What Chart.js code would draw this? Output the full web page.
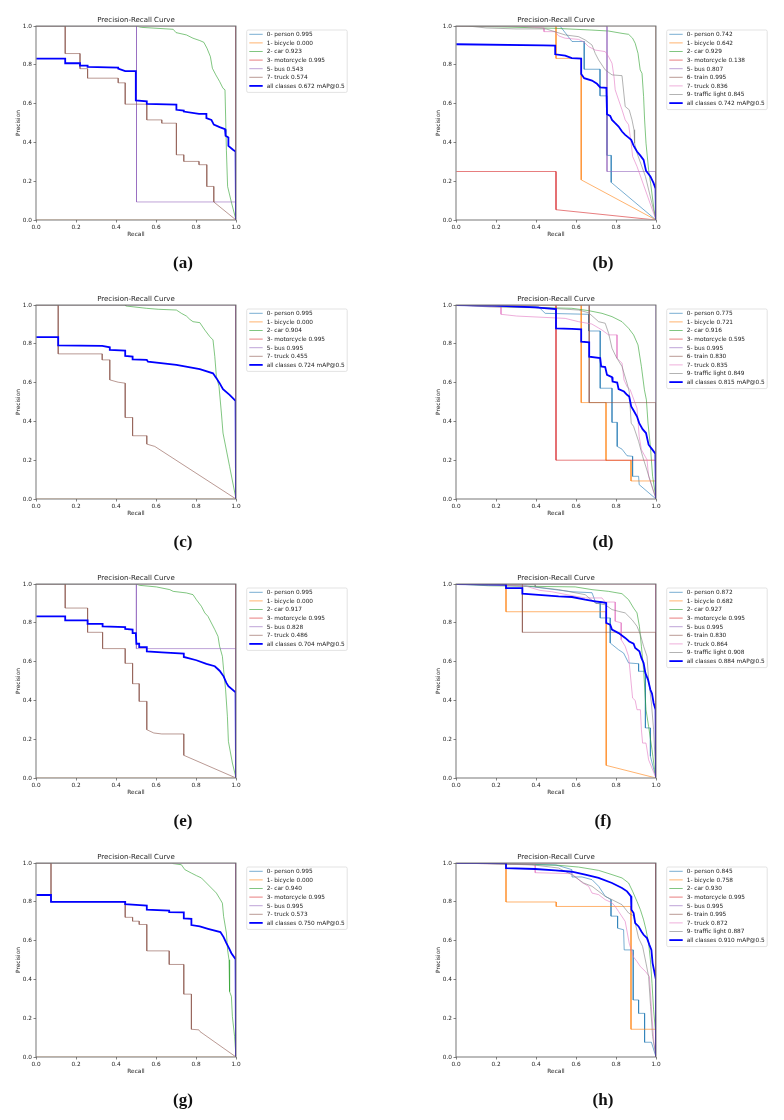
<!DOCTYPE html>
<html>
<head>
<meta charset="utf-8">
<script src="https://cdn.jsdelivr.net/npm/chart.js@4.4.0/dist/chart.umd.min.js"></script>
<style>
    body { margin: 0; background: #fff; }
    #page { position: relative; width: 784px; height: 1120px; overflow: hidden; }
    canvas { position: absolute; }
    .cap { position: absolute; width: 100px; text-align: center; line-height: 20px;
           font: bold 17px "Liberation Serif", serif; color: #111; }
</style>
</head>
<body>
<div id="page"></div>
<script>
// ---- shared curves (classes sitting on the frame) ----
const topCurve = [[0, 1], [1, 1], [1, 0]];
const zeroCurve = [[0, 0], [1, 0]];

// ---- (a) ----
const aLabels = ['0- person 0.995', '1- bicycle 0.000', '2- car 0.923', '3- motorcycle 0.995', '5- bus 0.543', '7- truck 0.574'];
const aAllLabel = 'all classes 0.672 mAP@0.5';
const aCar = [[0,1],[0.5,1],[0.527,0.993],[0.686,0.983],[0.70,0.966],[0.752,0.954],[0.785,0.937],[0.819,0.925],[0.839,0.916],[0.855,0.885],[0.872,0.842],[0.882,0.782],[0.899,0.748],[0.918,0.714],[0.935,0.679],[0.945,0.671],[0.952,0.36],[0.958,0.173],[0.978,0.087],[1,0]];
const aBus = [[0,1],[0.5025,1],[0.5025,0.093],[1,0.093],[1,0]];
const aTruck = [[0,1],[0.146,1],[0.146,0.858],[0.22,0.858],[0.22,0.78],[0.258,0.78],[0.258,0.731],[0.411,0.731],[0.411,0.707],[0.446,0.707],[0.446,0.597],[0.554,0.597],[0.554,0.516],[0.629,0.516],[0.629,0.499],[0.702,0.499],[0.702,0.336],[0.739,0.336],[0.739,0.302],[0.815,0.302],[0.815,0.285],[0.854,0.285],[0.854,0.173],[0.889,0.173],[0.889,0.093],[1,0]];
const aAll = [[0,0.832],[0.146,0.832],[0.146,0.808],[0.22,0.808],[0.22,0.796],[0.258,0.796],[0.258,0.789],[0.411,0.785],[0.411,0.78],[0.446,0.767],[0.499,0.767],[0.499,0.616],[0.554,0.612],[0.554,0.599],[0.702,0.595],[0.702,0.568],[0.739,0.564],[0.739,0.559],[0.815,0.547],[0.852,0.547],[0.852,0.525],[0.877,0.516],[0.889,0.492],[0.918,0.479],[0.945,0.468],[0.948,0.434],[0.962,0.425],[0.962,0.382],[0.985,0.362],[0.998,0.353],[1,0]];
const aCurves = [topCurve, zeroCurve, aCar, topCurve, aBus, aTruck];

// ---- (b) ----
const bLabels = ['0- person 0.742', '1- bicycle 0.642', '2- car 0.929', '3- motorcycle 0.138', '5- bus 0.807', '6- train 0.995', '7- truck 0.836', '9- traffic light 0.845'];
const bAllLabel = 'all classes 0.742 mAP@0.5';
const bPerson = [[0,1],[0.52,1],[0.55,0.96],[0.58,0.92],[0.641,0.92],[0.641,0.777],[0.72,0.777],[0.72,0.64],[0.755,0.64],[0.755,0.333],[0.776,0.333],[0.776,0.194],[1,0]];
const bBicycle = [[0,1],[0.5,1],[0.5,0.833],[0.626,0.833],[0.626,0.207],[1,0]];
const bCar = [[0,1],[0.24,0.995],[0.496,0.988],[0.68,0.979],[0.763,0.974],[0.83,0.962],[0.863,0.957],[0.883,0.937],[0.896,0.911],[0.91,0.859],[0.921,0.774],[0.93,0.756],[0.938,0.636],[0.943,0.516],[0.95,0.396],[0.963,0.259],[0.973,0.19],[0.99,0.053],[1,0]];
const bMotor = [[0,0.25],[0.5,0.25],[0.5,0.053],[1,0]];
const bBus = [[0,1],[0.755,1],[0.755,0.25],[1,0.25],[1,0]];
const bTruck = [[0,1],[0.3,1],[0.44,0.99],[0.44,0.971],[0.496,0.971],[0.513,0.949],[0.546,0.937],[0.613,0.931],[0.638,0.919],[0.663,0.894],[0.696,0.876],[0.746,0.868],[0.763,0.842],[0.78,0.808],[0.79,0.739],[0.796,0.671],[0.813,0.619],[0.83,0.568],[0.846,0.516],[0.863,0.491],[0.876,0.396],[0.883,0.328],[0.905,0.276],[1,0]];
const bLight = [[0,1],[0.06,1],[0.15,0.99],[0.3,0.985],[0.45,0.985],[0.546,0.954],[0.613,0.945],[0.646,0.928],[0.68,0.902],[0.696,0.859],[0.713,0.825],[0.746,0.774],[0.78,0.748],[0.83,0.744],[0.846,0.585],[0.866,0.568],[0.88,0.516],[0.89,0.465],[0.893,0.396],[0.905,0.345],[0.947,0.225],[1,0]];
const bAll = [[0,0.906],[0.437,0.9],[0.496,0.899],[0.496,0.854],[0.546,0.847],[0.579,0.834],[0.626,0.832],[0.626,0.753],[0.641,0.731],[0.68,0.719],[0.705,0.702],[0.721,0.684],[0.752,0.681],[0.755,0.545],[0.771,0.537],[0.78,0.516],[0.796,0.499],[0.813,0.482],[0.83,0.456],[0.846,0.439],[0.866,0.422],[0.876,0.413],[0.888,0.383],[0.905,0.353],[0.921,0.333],[0.938,0.31],[0.95,0.254],[0.972,0.225],[0.988,0.19],[0.998,0.161],[1,0]];
const bCurves = [bPerson, bBicycle, bCar, bMotor, bBus, topCurve, bTruck, bLight];

// ---- (c) ----
const cLabels = ['0- person 0.995', '1- bicycle 0.000', '2- car 0.904', '3- motorcycle 0.995', '5- bus 0.995', '7- truck 0.455'];
const cAllLabel = 'all classes 0.724 mAP@0.5';
const cCar = [[0,1],[0.449,1],[0.449,0.995],[0.552,0.983],[0.611,0.978],[0.702,0.974],[0.727,0.957],[0.752,0.943],[0.769,0.926],[0.785,0.914],[0.819,0.909],[0.844,0.871],[0.869,0.837],[0.885,0.82],[0.894,0.734],[0.902,0.631],[0.915,0.58],[0.927,0.443],[0.935,0.34],[0.968,0.168],[1,0]];
const cTruck = [[0,1],[0.111,1],[0.111,0.748],[0.331,0.748],[0.331,0.717],[0.369,0.717],[0.369,0.614],[0.411,0.602],[0.446,0.597],[0.446,0.42],[0.483,0.42],[0.483,0.326],[0.554,0.326],[0.554,0.283],[0.594,0.271],[1,0]];
const cAll = [[0,0.834],[0.111,0.834],[0.111,0.792],[0.331,0.789],[0.369,0.782],[0.369,0.768],[0.446,0.765],[0.446,0.738],[0.483,0.734],[0.483,0.72],[0.554,0.717],[0.56,0.708],[0.702,0.691],[0.819,0.669],[0.885,0.648],[0.902,0.623],[0.918,0.597],[0.935,0.566],[0.968,0.537],[0.998,0.506],[1,0]];
const cCurves = [topCurve, zeroCurve, cCar, topCurve, topCurve, cTruck];

// ---- (d) ----
const dLabels = ['0- person 0.775', '1- bicycle 0.721', '2- car 0.916', '3- motorcycle 0.595', '5- bus 0.995', '6- train 0.830', '7- truck 0.835', '9- traffic light 0.849'];
const dAllLabel = 'all classes 0.815 mAP@0.5';
const dPerson = [[0,1],[0.412,0.991],[0.446,0.957],[0.663,0.952],[0.663,0.866],[0.721,0.866],[0.721,0.571],[0.78,0.571],[0.78,0.395],[0.806,0.395],[0.806,0.271],[0.83,0.257],[0.855,0.223],[0.883,0.22],[0.883,0.117],[0.913,0.117],[0.916,0.074],[1,0]];
const dBicycle = [[0,1],[0.626,1],[0.626,0.497],[0.75,0.497],[0.75,0.199],[0.875,0.199],[0.875,0.093],[1,0.093],[1,0]];
const dCar = [[0,1],[0.279,0.99],[0.579,0.983],[0.663,0.971],[0.73,0.957],[0.78,0.94],[0.83,0.914],[0.863,0.88],[0.888,0.846],[0.91,0.794],[0.927,0.683],[0.942,0.563],[0.952,0.511],[0.96,0.391],[0.972,0.271],[0.983,0.117],[1,0]];
const dMotor = [[0,1],[0.5,1],[0.5,0.2],[1,0.2],[1,0]];
const dTrain = [[0,1],[0.666,1],[0.666,0.497],[1,0.497],[1,0]];
const dTruck = [[0,1],[0.225,0.99],[0.225,0.952],[0.304,0.943],[0.546,0.931],[0.613,0.914],[0.679,0.902],[0.73,0.871],[0.763,0.846],[0.805,0.846],[0.805,0.726],[0.83,0.7],[0.84,0.614],[0.855,0.58],[0.871,0.563],[0.905,0.468],[0.916,0.322],[0.927,0.254],[0.955,0.202],[0.963,0.117],[1,0]];
const dLight = [[0,1],[0.17,0.99],[0.446,0.985],[0.613,0.974],[0.663,0.96],[0.713,0.914],[0.746,0.906],[0.763,0.854],[0.78,0.777],[0.8,0.734],[0.83,0.683],[0.855,0.597],[0.866,0.554],[0.876,0.391],[0.888,0.374],[0.913,0.297],[0.933,0.22],[1,0]];
const dAll = [[0,1],[0.195,0.997],[0.396,0.988],[0.5,0.979],[0.5,0.88],[0.579,0.877],[0.626,0.875],[0.626,0.811],[0.666,0.808],[0.666,0.734],[0.721,0.726],[0.726,0.683],[0.746,0.68],[0.755,0.64],[0.78,0.628],[0.783,0.605],[0.806,0.6],[0.813,0.566],[0.84,0.554],[0.855,0.537],[0.866,0.528],[0.876,0.477],[0.888,0.456],[0.905,0.425],[0.916,0.391],[0.933,0.36],[0.95,0.34],[0.963,0.28],[0.98,0.257],[0.997,0.233],[1,0]];
const dCurves = [dPerson, dBicycle, dCar, dMotor, topCurve, dTrain, dTruck, dLight];

// ---- (e) ----
const eLabels = ['0- person 0.995', '1- bicycle 0.000', '2- car 0.917', '3- motorcycle 0.995', '5- bus 0.828', '7- truck 0.486'];
const eAllLabel = 'all classes 0.704 mAP@0.5';
const eCar = [[0,1],[0.5,1],[0.519,0.993],[0.602,0.985],[0.669,0.971],[0.686,0.962],[0.752,0.954],[0.785,0.945],[0.802,0.919],[0.827,0.885],[0.844,0.851],[0.86,0.833],[0.877,0.799],[0.894,0.765],[0.91,0.73],[0.918,0.679],[0.932,0.627],[0.938,0.558],[0.948,0.455],[0.957,0.318],[0.962,0.189],[0.982,0.077],[1,0]];
const eBus = [[0,1],[0.502,1],[0.502,0.667],[1,0.667],[1,0]];
const eTruck = [[0,1],[0.146,1],[0.146,0.876],[0.258,0.876],[0.258,0.751],[0.333,0.751],[0.333,0.667],[0.446,0.667],[0.446,0.591],[0.483,0.591],[0.483,0.486],[0.516,0.486],[0.516,0.395],[0.554,0.395],[0.554,0.249],[0.589,0.232],[0.629,0.227],[0.739,0.227],[0.739,0.117],[1,0]];
const eAll = [[0,0.833],[0.146,0.833],[0.146,0.813],[0.258,0.813],[0.258,0.794],[0.333,0.794],[0.333,0.782],[0.446,0.778],[0.446,0.768],[0.483,0.765],[0.483,0.747],[0.499,0.747],[0.502,0.692],[0.516,0.692],[0.516,0.675],[0.554,0.675],[0.554,0.653],[0.629,0.648],[0.739,0.641],[0.739,0.624],[0.802,0.607],[0.852,0.588],[0.894,0.576],[0.918,0.553],[0.938,0.524],[0.952,0.49],[0.962,0.473],[0.998,0.442],[1,0]];
const eCurves = [topCurve, zeroCurve, eCar, topCurve, eBus, eTruck];

// ---- (f) ----
const fLabels = ['0- person 0.872', '1- bicycle 0.682', '2- car 0.927', '3- motorcycle 0.995', '5- bus 0.995', '6- train 0.830', '7- truck 0.864', '9- traffic light 0.908'];
const fAllLabel = 'all classes 0.884 mAP@0.5';
const fPerson = [[0,1],[0.35,0.99],[0.58,0.96],[0.68,0.955],[0.7,0.9],[0.721,0.9],[0.721,0.825],[0.771,0.825],[0.771,0.696],[0.813,0.661],[0.838,0.644],[0.863,0.593],[0.913,0.589],[0.913,0.55],[0.947,0.55],[0.947,0.258],[0.972,0.258],[0.972,0.112],[1,0]];
const fBicycle = [[0,1],[0.25,1],[0.25,0.857],[0.751,0.857],[0.751,0.065],[1,0]];
const fCar = [[0,1],[0.162,0.991],[0.596,0.985],[0.68,0.971],[0.763,0.962],[0.83,0.95],[0.863,0.919],[0.888,0.876],[0.905,0.851],[0.917,0.782],[0.927,0.679],[0.938,0.558],[0.95,0.352],[0.963,0.266],[0.98,0.146],[0.993,0.043],[1,0]];
const fTrain = [[0,1],[0.332,1],[0.332,0.751],[1,0.751],[1,0]];
const fTruck = [[0,1],[0.346,0.99],[0.42,0.967],[0.479,0.96],[0.58,0.94],[0.646,0.928],[0.73,0.928],[0.746,0.907],[0.796,0.907],[0.796,0.808],[0.826,0.8],[0.826,0.713],[0.846,0.679],[0.863,0.627],[0.883,0.412],[0.896,0.4],[0.905,0.352],[0.922,0.352],[0.927,0.249],[0.933,0.18],[0.95,0.18],[0.963,0.094],[1,0]];
const fLight = [[0,1],[0.396,0.997],[0.396,0.985],[0.513,0.971],[0.646,0.945],[0.696,0.902],[0.746,0.893],[0.78,0.868],[0.813,0.859],[0.846,0.851],[0.88,0.816],[0.905,0.782],[0.922,0.739],[0.938,0.679],[0.955,0.627],[0.963,0.507],[0.977,0.387],[0.988,0.249],[1,0]];
const fAll = [[0,1],[0.25,0.997],[0.25,0.979],[0.332,0.979],[0.332,0.95],[0.396,0.945],[0.513,0.936],[0.58,0.933],[0.646,0.919],[0.696,0.911],[0.73,0.906],[0.751,0.902],[0.751,0.799],[0.771,0.79],[0.78,0.765],[0.813,0.747],[0.846,0.722],[0.866,0.704],[0.888,0.692],[0.896,0.67],[0.917,0.653],[0.927,0.619],[0.938,0.593],[0.947,0.541],[0.96,0.507],[0.972,0.455],[0.98,0.435],[0.988,0.387],[0.998,0.352],[1,0]];
const fCurves = [fPerson, fBicycle, fCar, topCurve, topCurve, fTrain, fTruck, fLight];

// ---- (g) ----
const gLabels = ['0- person 0.995', '1- bicycle 0.000', '2- car 0.940', '3- motorcycle 0.995', '5- bus 0.995', '7- truck 0.573'];
const gAllLabel = 'all classes 0.750 mAP@0.5';
const gCar = [[0,1],[0.68,1],[0.686,0.997],[0.727,0.991],[0.744,0.966],[0.777,0.948],[0.802,0.935],[0.827,0.923],[0.852,0.897],[0.877,0.871],[0.902,0.845],[0.922,0.811],[0.932,0.793],[0.938,0.725],[0.952,0.639],[0.958,0.552],[0.965,0.501],[0.968,0.337],[0.977,0.312],[0.982,0.208],[0.993,0.105],[1,0]];
const gTruck = [[0,1],[0.075,1],[0.075,0.8],[0.446,0.8],[0.446,0.72],[0.483,0.72],[0.483,0.7],[0.516,0.7],[0.516,0.683],[0.554,0.683],[0.554,0.547],[0.666,0.547],[0.666,0.477],[0.739,0.477],[0.739,0.324],[0.777,0.324],[0.777,0.143],[0.814,0.14],[0.82,0.131],[1,0]];
const gAll = [[0,0.835],[0.075,0.835],[0.075,0.8],[0.446,0.8],[0.446,0.788],[0.519,0.783],[0.554,0.781],[0.554,0.759],[0.666,0.754],[0.666,0.747],[0.739,0.745],[0.739,0.714],[0.777,0.712],[0.777,0.68],[0.819,0.673],[0.86,0.661],[0.922,0.644],[0.938,0.618],[0.952,0.587],[0.965,0.561],[0.977,0.535],[0.998,0.504],[1,0]];
const gCurves = [topCurve, zeroCurve, gCar, topCurve, topCurve, gTruck];

// ---- (h) ----
const hLabels = ['0- person 0.845', '1- bicycle 0.758', '2- car 0.930', '3- motorcycle 0.995', '5- bus 0.995', '6- train 0.995', '7- truck 0.872', '9- traffic light 0.887'];
const hAllLabel = 'all classes 0.910 mAP@0.5';
const hPerson = [[0,1],[0.3,0.995],[0.5,0.99],[0.579,0.966],[0.58,0.928],[0.63,0.928],[0.68,0.914],[0.713,0.88],[0.746,0.829],[0.775,0.811],[0.775,0.726],[0.808,0.726],[0.808,0.664],[0.838,0.656],[0.841,0.552],[0.886,0.552],[0.886,0.294],[0.913,0.294],[0.913,0.225],[0.943,0.225],[0.943,0.076],[0.977,0.076],[1,0]];
const hBicycle = [[0,1],[0.25,1],[0.25,0.799],[0.501,0.799],[0.501,0.776],[0.875,0.776],[0.875,0.143],[1,0.143],[1,0]];
const hCar = [[0,1],[0.179,0.997],[0.513,0.988],[0.613,0.979],[0.713,0.962],[0.78,0.94],[0.83,0.923],[0.863,0.897],[0.883,0.854],[0.905,0.802],[0.922,0.759],[0.938,0.707],[0.95,0.656],[0.963,0.587],[0.972,0.501],[0.98,0.38],[0.988,0.243],[0.997,0.139],[1,0]];
const hTruck = [[0,1],[0.396,0.99],[0.396,0.95],[0.579,0.945],[0.629,0.9],[0.663,0.88],[0.68,0.845],[0.713,0.837],[0.746,0.811],[0.78,0.795],[0.796,0.776],[0.813,0.75],[0.846,0.699],[0.866,0.587],[0.876,0.552],[0.888,0.515],[0.905,0.492],[0.922,0.466],[0.947,0.441],[0.967,0.415],[0.98,0.208],[0.99,0.071],[1,0]];
const hLight = [[0,1],[0.379,0.991],[0.513,0.974],[0.579,0.94],[0.638,0.897],[0.68,0.88],[0.746,0.828],[0.78,0.811],[0.83,0.785],[0.863,0.742],[0.888,0.728],[0.913,0.613],[0.933,0.57],[0.95,0.484],[0.963,0.415],[0.973,0.26],[0.983,0.105],[1,0]];
const hAll = [[0,1],[0.25,1],[0.25,0.974],[0.396,0.969],[0.496,0.962],[0.579,0.955],[0.646,0.94],[0.713,0.923],[0.78,0.897],[0.83,0.871],[0.855,0.854],[0.875,0.828],[0.877,0.759],[0.888,0.742],[0.896,0.69],[0.913,0.673],[0.927,0.647],[0.938,0.63],[0.955,0.613],[0.967,0.578],[0.977,0.552],[0.983,0.484],[0.993,0.432],[1,0.398],[1,0]];
const hCurves = [hPerson, hBicycle, hCar, topCurve, topCurve, topCurve, hTruck, hLight];

// axis ticks and captions
const tickValues = [0, 0.2, 0.4, 0.6, 0.8, 1.0];
const captions = ['(a)', '(b)', '(c)', '(d)', '(e)', '(f)', '(g)', '(h)'];

// matplotlib colour cycle, in plot order
const cycle = ['#1f77b4', '#ff7f0e', '#2ca02c', '#d62728', '#9467bd', '#8c564b', '#e377c2', '#7f7f7f'];
const FONT = '"DejaVu Sans", sans-serif';
const FS = 5.8;

//==

// frame, title, axis labels and the boxed legend (matplotlib look)
const decor = {
    id: 'decor',
    afterDatasetsDraw(chart) {
        const ctx = chart.ctx, a = chart.chartArea;
        ctx.save();
        ctx.strokeStyle = '#555';
        ctx.lineWidth = 0.8;
        ctx.strokeRect(a.left, a.top, a.right - a.left, a.bottom - a.top);
        ctx.restore();
    },
    afterDraw(chart) {
        const ctx = chart.ctx, a = chart.chartArea;
        const cx = (a.left + a.right) / 2;
        ctx.save();
        ctx.fillStyle = '#222';
        ctx.textAlign = 'center';
        ctx.textBaseline = 'middle';
        ctx.font = '7px ' + FONT;
        ctx.fillText('Precision-Recall Curve', cx, a.top - 5.5);
        ctx.font = FS + 'px ' + FONT;
        ctx.fillText('Recall', cx, a.bottom + 14);
        ctx.save();
        ctx.translate(a.left - 18, (a.top + a.bottom) / 2);
        ctx.rotate(-Math.PI / 2);
        ctx.fillText('Precision', 0, 0);
        ctx.restore();

        // legend box
        const sets = chart.data.datasets;
        const x0 = a.right + 10.7, y0 = a.top + 4;
        const step = 8.6;
        let maxW = 0;
        sets.forEach(d => { maxW = Math.max(maxW, ctx.measureText(d.label).width); });
        const w = 20 + maxW + 2.5;
        const h = 4.3 + (sets.length - 1) * step + 6.5;
        ctx.beginPath();
        ctx.roundRect(x0, y0, w, h, 1.5);
        ctx.fillStyle = 'rgba(255,255,255,0.8)';
        ctx.fill();
        ctx.strokeStyle = '#d0d0d0';
        ctx.lineWidth = 0.6;
        ctx.stroke();
        ctx.textAlign = 'left';
        sets.forEach((d, i) => {
            const y = y0 + 4.3 + i * step;
            ctx.beginPath();
            ctx.moveTo(x0 + 2.6, y);
            ctx.lineTo(x0 + 16, y);
            ctx.strokeStyle = d.borderColor;
            ctx.lineWidth = d.borderWidth;
            ctx.stroke();
            ctx.fillStyle = '#222';
            ctx.fillText(d.label, x0 + 20, y + 0.3);
        });
        ctx.restore();
    }
};

function toPoints(pairs) {
    return pairs.map(p => ({ x: p[0], y: p[1] }));
}

function axis(width, height) {
    return {
        type: 'linear',
        min: 0,
        max: 1,
        afterFit: function(scale) {
            if (width) scale.width = width;
            if (height) scale.height = height;
        },
        afterBuildTicks: function(scale) {
            scale.ticks = tickValues.map(v => ({ value: v }));
        },
        grid: { display: true, drawOnChartArea: false, drawTicks: true, tickLength: 2.5, color: '#333', lineWidth: 0.6 },
        border: { display: false },
        ticks: {
            autoSkip: false,
            maxRotation: 0,
            padding: 1.5,
            color: '#222',
            font: { family: FONT, size: FS },
            callback: function(v) { return Number(v).toFixed(1); }
        }
    };
}

function makePanel(idx, labels, curves, allLabel, allCurve) {
    const col = idx % 2, row = Math.floor(idx / 2);
    const page = document.getElementById('page');
    const canvas = document.createElement('canvas');
    canvas.width = 364;
    canvas.height = 279;
    canvas.style.left = (col * 420) + 'px';
    canvas.style.top = (row * 279) + 'px';
    page.appendChild(canvas);

    const cap = document.createElement('div');
    cap.className = 'cap';
    cap.textContent = captions[idx];
    cap.style.left = (col * 420 + 183 - 50) + 'px';
    cap.style.top = (row * 279 + 263 - 10) + 'px';
    page.appendChild(cap);

    const datasets = labels.map((lab, i) => ({
        label: lab,
        data: toPoints(curves[i]),
        borderColor: cycle[i],
        borderWidth: 0.6,
        order: 100 - i
    }));
    datasets.push({
        label: allLabel,
        data: toPoints(allCurve),
        borderColor: '#0000ff',
        borderWidth: 1.8,
        order: 0
    });
    datasets.forEach(d => {
        d.showLine = true;
        d.pointRadius = 0;
        d.tension = 0;
        d.fill = false;
        // lines lying on the frame stay hidden under it, as in matplotlib
        d.clip = -0.4;
    });

    new Chart(canvas.getContext('2d'), {
        type: 'scatter',
        data: { datasets: datasets },
        options: {
            responsive: false,
            animation: false,
            events: [],
            layout: { padding: { left: 6, top: 26, right: 128, bottom: 39 } },
            plugins: { legend: { display: false }, tooltip: { enabled: false }, title: { display: false } },
            scales: {
                x: axis(0, 20),
                y: axis(30, 0)
            }
        },
        plugins: [decor]
    });
}

makePanel(0, aLabels, aCurves, aAllLabel, aAll);
makePanel(1, bLabels, bCurves, bAllLabel, bAll);
makePanel(2, cLabels, cCurves, cAllLabel, cAll);
makePanel(3, dLabels, dCurves, dAllLabel, dAll);
makePanel(4, eLabels, eCurves, eAllLabel, eAll);
makePanel(5, fLabels, fCurves, fAllLabel, fAll);
makePanel(6, gLabels, gCurves, gAllLabel, gAll);
makePanel(7, hLabels, hCurves, hAllLabel, hAll);
</script>
</body>
</html>
